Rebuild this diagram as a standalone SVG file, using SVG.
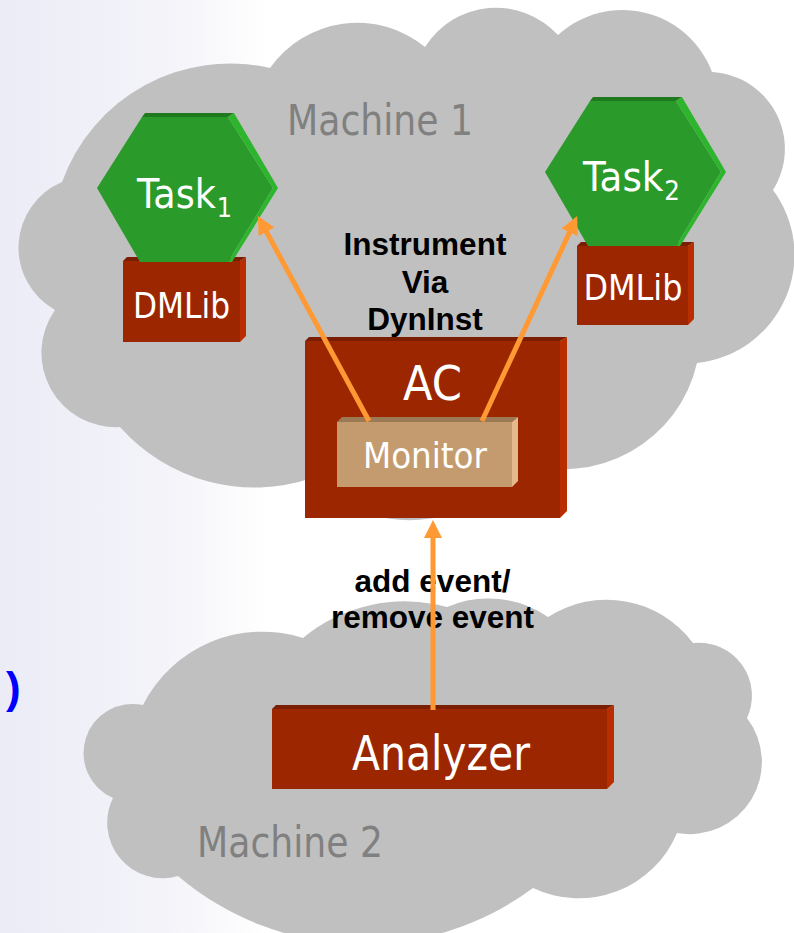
<svg xmlns="http://www.w3.org/2000/svg" width="794" height="933" viewBox="0 0 794 933">
<defs>
<linearGradient id="bg" x1="0" y1="0" x2="1" y2="0">
<stop offset="0" stop-color="#ECECF7"/>
<stop offset="0.6" stop-color="#F3F3F9"/>
<stop offset="1" stop-color="#FFFFFF"/>
</linearGradient>
<marker id="ah" markerUnits="userSpaceOnUse" markerWidth="20" markerHeight="20" viewBox="0 -10 20 20" refX="1" refY="0" orient="auto">
<path d="M0,-9 L18,0 L0,9 Z" fill="#FF9933"/>
</marker>
</defs>
<style>
.cloud{fill:#C0C0C0}
.mach{font-family:"DejaVu Sans",Verdana,sans-serif;font-size:42px;fill:#808080;text-anchor:middle}
.face{fill:#9B2600}
.top{fill:#7A1D00}
.side{fill:#B82E00}
.mface{fill:#C49B6E}
.mtop{fill:#9C7A56}
.mside{fill:#E4B98C}
.hface{fill:#2A9B2A}
.htop{fill:#1F7A1F}
.hside{fill:#2EB52E}
.nl{font-family:"DejaVu Sans",Verdana,sans-serif;fill:#FFFFFF;text-anchor:middle}
.el{font-family:"Liberation Sans",Arial,sans-serif;font-weight:bold;font-size:31.5px;fill:#000000;text-anchor:middle}
.conn{stroke:#FF9933;stroke-width:5;fill:none;marker-end:url(#ah)}
</style>
<rect x="0" y="0" width="794" height="933" fill="#FFFFFF"/>
<rect x="0" y="0" width="270" height="933" fill="url(#bg)"/>
<text x="6" y="703" font-family="Liberation Sans, Arial, sans-serif" font-size="44" font-weight="bold" fill="#0000FF">)</text>

<g id="machine1">
<path class="cloud" d="M62,182 A178.8,178.8 0 0 1 270,68 A106.9,106.9 0 0 1 425,47 A84,84 0 0 1 558,35 A95.7,95.7 0 0 1 712,72 A77,77 0 0 1 773,190 A108.7,108.7 0 0 1 697,363 A136.7,136.7 0 0 1 520,462 A133.8,133.8 0 0 1 312,478 A179.5,179.5 0 0 1 120,427 A74.3,74.3 0 0 1 55,310 A71.4,71.4 0 0 1 62,182 Z"/>
<text class="mach" x="380" y="135" textLength="186" lengthAdjust="spacingAndGlyphs">Machine 1</text>
</g>
<g id="machine2">
<path class="cloud" d="M143,705 A133.6,133.6 0 0 1 303,638 A159.7,159.7 0 0 1 447,607 A105.5,105.5 0 0 1 548,617 A108,108 0 0 1 693,643 A53,53 0 0 1 747,718 A72.2,72.2 0 0 1 677,833 A106.5,106.5 0 0 1 533,888 A285.4,285.4 0 0 1 178,876 A55.5,55.5 0 0 1 113,798 A49.1,49.1 0 0 1 143,705 Z"/>
<text class="mach" x="290" y="857" textLength="186" lengthAdjust="spacingAndGlyphs">Machine 2</text>
</g>

<g id="dmlib1">
<rect class="face" x="123" y="261" width="117" height="81"/>
<polygon class="top" points="123,261 127,257 246,257 240,261"/>
<polygon class="side" points="240,261 246,257 246,336 240,342"/>
<text class="nl" x="181.5" y="318" font-size="36" textLength="97" lengthAdjust="spacingAndGlyphs">DMLib</text>
</g>
<g id="dmlib2">
<rect class="face" x="577" y="246" width="111" height="79"/>
<polygon class="top" points="577,246 581,242 694,242 688,246"/>
<polygon class="side" points="688,246 694,242 694,319 688,325"/>
<text class="nl" x="633" y="300" font-size="36" textLength="99" lengthAdjust="spacingAndGlyphs">DMLib</text>
</g>
<g id="task1">
<g transform="translate(97,113)">
<polygon class="hface" points="0,75 45,4 131,4 176,75 131,149 43,149"/>
<polygon class="htop" points="45,4 48,0 137,0 131,4"/>
<polygon class="hside" points="131,4 137,0 181,75 135,149 131,149 176,75"/>
</g>
<text class="nl" x="184.5" y="208" font-size="41" textLength="95" lengthAdjust="spacingAndGlyphs">Task<tspan font-size="27" dx="1" dy="9">1</tspan></text>
</g>
<g id="task2">
<g transform="translate(545,97)">
<polygon class="hface" points="0,75 45,4 131,4 176,75 131,149 43,149"/>
<polygon class="htop" points="45,4 48,0 137,0 131,4"/>
<polygon class="hside" points="131,4 137,0 181,75 135,149 131,149 176,75"/>
</g>
<text class="nl" x="631.5" y="191" font-size="41" textLength="97" lengthAdjust="spacingAndGlyphs">Task<tspan font-size="27" dx="1" dy="9">2</tspan></text>
</g>
<g id="ac">
<rect class="face" x="305" y="341" width="255" height="177"/>
<polygon class="top" points="305,341 309,337 567,337 560,341"/>
<polygon class="side" points="560,341 567,337 567,511 560,518"/>
<text class="nl" x="432.5" y="400" font-size="48" textLength="59" lengthAdjust="spacingAndGlyphs">AC</text>
</g>
<g id="monitor">
<rect class="mface" x="337" y="422" width="175" height="65"/>
<polygon class="mtop" points="337,422 342,417 518,417 512,422"/>
<polygon class="mside" points="512,422 518,417 518,481 512,487"/>
<text class="nl" x="425" y="468" font-size="36" textLength="124" lengthAdjust="spacingAndGlyphs">Monitor</text>
</g>
<g id="analyzer">
<rect class="face" x="272" y="709" width="335" height="80"/>
<polygon class="top" points="272,709 276,705 614,705 607,709"/>
<polygon class="side" points="607,709 614,705 614,782 607,789"/>
<text class="nl" x="441" y="770" font-size="48" textLength="178" lengthAdjust="spacingAndGlyphs">Analyzer</text>
</g>

<g id="edge-labels">
<text class="el" x="425" y="255">Instrument</text>
<text class="el" x="425" y="293">Via</text>
<text class="el" x="425" y="330">DynInst</text>
<text class="el" x="432.5" y="592">add event/</text>
<text class="el" x="432.5" y="628">remove event</text>
</g>

<g id="connectors">
<line class="conn" x1="369" y1="421" x2="266" y2="231"/>
<line class="conn" x1="482" y1="421" x2="570" y2="231.4"/>
<line class="conn" x1="433" y1="710" x2="433" y2="537"/>
</g>
</svg>
